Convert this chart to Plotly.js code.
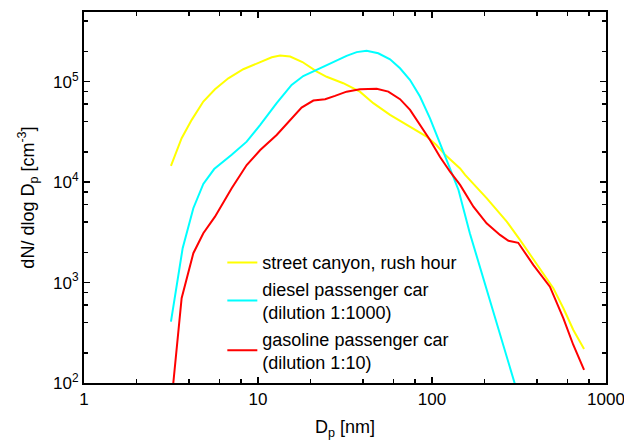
<!DOCTYPE html>
<html>
<head>
<meta charset="utf-8">
<script src="https://cdn.plot.ly/plotly-3.0.1.min.js"></script>
<style>html,body{margin:0;padding:0;background:#fff;}#chart{width:624px;height:441px;}</style>
</head>
<body>
<div id="chart"></div>
<script>
// street canyon, rush hour
const streetD = [3.16, 3.64, 4.16, 4.85, 5.66, 6.75, 8.23, 10.3, 12.0, 13.4, 15.3, 18.0, 21.8, 24.8, 30.9, 38.5, 46, 57.4, 74.8, 93.1, 106, 119, 145, 155, 206, 269, 321, 400, 498, 569, 649, 748];
const streetN = [14500, 27400, 41700, 63400, 84100, 108000, 133000, 158000, 175000, 182000, 178000, 157000, 126000, 112000, 96600, 79600, 61100, 46700, 35700, 28400, 23400, 18700, 13700, 11800, 6920, 4050, 2650, 1500, 877, 555, 337, 218];
// diesel passenger car (dilution 1:1000)
const dieselD = [3.16, 3.33, 3.69, 4.25, 4.85, 5.6, 7.06, 8.61, 10.3, 12.8, 15.6, 18.2, 22.0, 27.1, 32.3, 36.9, 42.1, 49.1, 57.4, 65.5, 74.8, 85.3, 97.4, 111, 127, 142, 165, 206, 257, 296, 310];
const dieselN = [408, 724, 2200, 5500, 9600, 13500, 18700, 25300, 37200, 61100, 93000, 114000, 133000, 155000, 181000, 197000, 203000, 192000, 167000, 136000, 104000, 71100, 43200, 24400, 13700, 8360, 3100, 844, 230, 100, 80];
// gasoline passenger car (dilution 1:10)
const gasD = [3.26, 3.64, 4.25, 4.85, 5.66, 6.61, 7.06, 8.61, 10.3, 12.8, 15.3, 17.8, 20.8, 24.3, 27.7, 32.3, 38.5, 48.1, 56.1, 65.5, 74.8, 85.3, 97.4, 111, 127, 145, 173, 206, 246, 275, 313, 382, 476, 569, 649, 748];
const gasN = [100, 698, 1960, 3100, 4530, 7180, 8690, 14800, 20900, 29500, 41700, 55200, 64900, 67000, 72300, 79600, 84100, 84900, 79600, 67000, 52400, 37200, 26300, 17900, 12700, 9380, 5700, 3890, 2980, 2610, 2490, 1500, 910, 441, 239, 135];

const seriesNames = ['street canyon, rush hour', 'diesel passenger car<br>(dilution 1:1000)', 'gasoline passenger car<br>(dilution 1:10)'];
const xTickVals = [1, 10, 100, 1000];
const xTickText = ['1', '10', '100', '1000'];
const yTickVals = [100, 1000, 10000, 100000];
const yTickText = ['10<sup>2</sup>', '10<sup>3</sup>', '10<sup>4</sup>', '10<sup>5</sup>'];
const xMinor = [2,4,6,8,20,40,60,80,200,400,600,800];
const yMinor = [200,400,600,800,2000,4000,6000,8000,20000,40000,60000,80000,200000,400000];

const FONT = 'Liberation Sans, Arial, sans-serif';
const traces = [
  {x: streetD, y: streetN, name: seriesNames[0], mode: 'lines', line: {color: '#ffff00', width: 2}},
  {x: dieselD, y: dieselN, name: seriesNames[1], mode: 'lines', line: {color: '#00ffff', width: 2}},
  {x: gasD, y: gasN, name: seriesNames[2], mode: 'lines', line: {color: '#ff0000', width: 2}}
];
const axisCommon = {
  type: 'log', showgrid: false, zeroline: false, showline: true, linecolor: '#000', linewidth: 2,
  mirror: 'allticks', ticks: 'inside', ticklen: 6, tickwidth: 1.5, tickcolor: '#000',
  tickmode: 'array', ticklabeloverflow: 'allow', tickfont: {family: FONT, size: 17, color: '#000'}
};
const layout = {
  width: 624, height: 441,
  margin: {l: 84, r: 18, t: 12, b: 58},
  paper_bgcolor: '#fff', plot_bgcolor: '#fff',
  showlegend: true,
  legend: {x: 0.265, y: 0.374, xanchor: 'left', yanchor: 'top', bgcolor: 'rgba(0,0,0,0)', borderwidth: 0,
           font: {family: FONT, size: 18, color: '#000'}, tracegroupgap: 0},
  xaxis: Object.assign({}, axisCommon, {
    range: [0, 3], tickvals: xTickVals, ticktext: xTickText,
    minor: {tickvals: xMinor, ticks: 'inside', ticklen: 4, tickwidth: 1.5, tickcolor: '#000', showgrid: false},
    title: {text: 'D<sub>p</sub> [nm]', font: {family: FONT, size: 18, color: '#000'}, standoff: 12}
  }),
  yaxis: Object.assign({}, axisCommon, {
    range: [2, 5.694], tickvals: yTickVals, ticktext: yTickText,
    minor: {tickvals: yMinor, ticks: 'inside', ticklen: 4, tickwidth: 1.5, tickcolor: '#000', showgrid: false},
    title: {text: '\u00a0\u00a0\u00a0\u00a0\u00a0\u00a0\u00a0\u00a0\u00a0dN/ dlog D<sub>p</sub> [cm<sup>-3</sup>]', font: {family: FONT, size: 18, color: '#000'}, standoff: 14}
  })
};
Plotly.newPlot('chart', traces, layout, {displayModeBar: false, staticPlot: true});
</script>
</body>
</html>
